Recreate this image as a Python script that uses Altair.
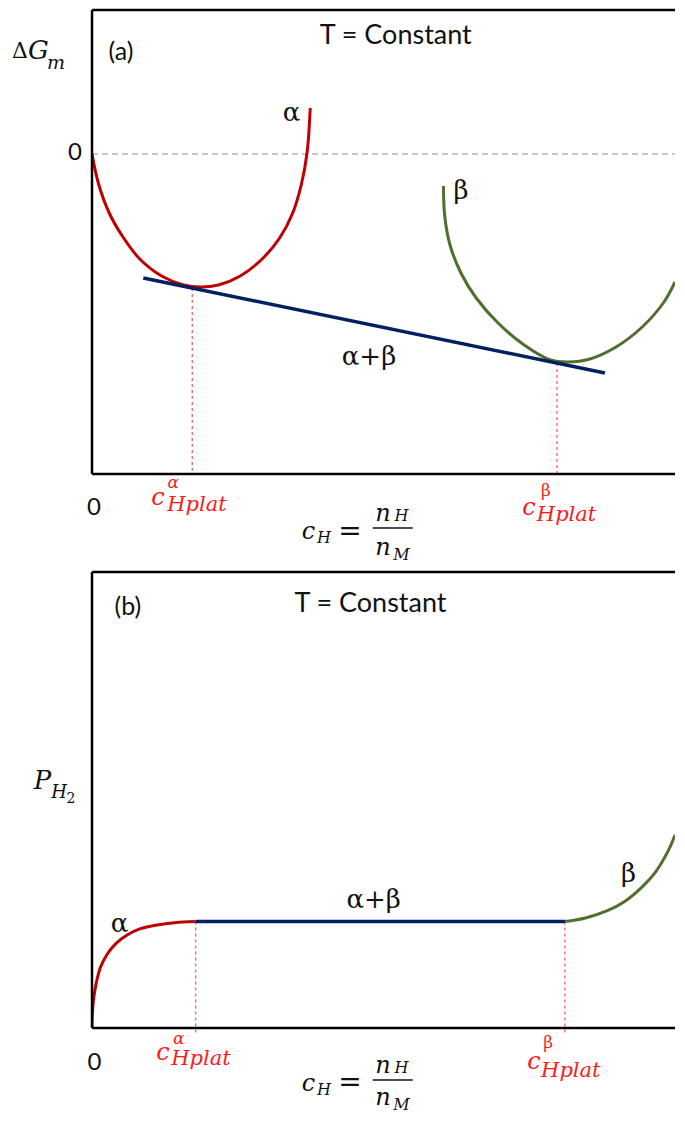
import altair as alt
import pandas as pd

# ---------------- data (panel a: Gibbs energy of mixing) ----------------
A_RED_X = [0, 0.0111, 0.0290, 0.0511, 0.0806, 0.1174, 0.1543, 0.1838, 0.2132, 0.2501, 0.2869, 0.3164, 0.3385, 0.3532, 0.3628, 0.3680]
A_RED_Y = [0, -0.30, -0.59, -0.82, -1.05, -1.22, -1.31, -1.33, -1.31, -1.22, -1.05, -0.84, -0.59, -0.30, 0.02, 0.46]
A_BLUE_X = [0.0865, 0.865]
A_BLUE_Y = [-1.24, -2.19]
A_GREEN_X = [0.5926, 0.5948, 0.6037, 0.6221, 0.6479, 0.6847, 0.7288, 0.7732, 0.8025, 0.8395, 0.8836, 0.9278, 0.9646, 0.9831]
A_GREEN_Y = [-0.32, -0.62, -0.91, -1.19, -1.44, -1.69, -1.91, -2.06, -2.08, -2.05, -1.93, -1.73, -1.48, -1.28]
A_PLAT_X = [0.1690, 0.7841]
A_PLAT_Y = [-1.34, -2.09]
A_XDOM = [0, 0.9831]
A_YDOM = [-3.20, 1.44]

# ---------------- data (panel b: pressure-composition isotherm) ----------------
B_RED_X = [0, 0.0003, 0.0025, 0.0069, 0.0143, 0.0253, 0.0401, 0.0585, 0.0806, 0.1101, 0.1395, 0.1749]
B_RED_Y = [0, 0.095, 0.278, 0.443, 0.607, 0.735, 0.844, 0.928, 0.991, 1.031, 1.053, 1.064]
B_BLUE_X = [0.1749, 0.7975]
B_BLUE_Y = [1.064, 1.064]
B_GREEN_X = [0.7975, 0.8321, 0.8690, 0.8983, 0.9278, 0.9499, 0.9720, 0.9831]
B_GREEN_Y = [1.064, 1.10, 1.173, 1.265, 1.411, 1.557, 1.776, 1.93]
B_PLAT_X = [0.1749, 0.7975]
B_PLAT_Y = [1.064, 1.064]
B_XDOM = [0, 0.9831]
B_YDOM = [0, 4.56]

RED = "#c00000"
BLUE = "#002060"
GREEN = "#4f6f2f"
LRED = "#ff5050"

# annotations: (text, x, y, font group, size, color)
A_ANN = [
    ("T = Constant", 0.5122, 1.18, "sans", 27, "black"),
    ("(a)", 0.049, 1.02, "sans", 25, "black"),
    ("0", -0.0287, 0.01, "sans", 24, "black"),
    ("Δ", -0.1214, 1.03, "serif", 22, "black"),
    ("G", -0.0902, 1.03, "serif_i", 26, "black"),
    ("m", -0.0607, 0.91, "serif_i", 19, "black"),
    ("α", 0.3364, 0.41, "serif", 26, "black"),
    ("β", 0.6223, -0.37, "serif", 26, "black"),
    ("α+β", 0.4671, -2.03, "serif", 26, "black"),
    ("0", 0.0034, -3.54, "sans", 24, "black"),
    ("c", 0.1113, -3.44, "serif_i", 24, "red"),
    ("α", 0.1371, -3.29, "serif_i", 17, "red"),
    ("Hplat", 0.1771, -3.505, "serif_i", 21, "red"),
    ("c", 0.7369, -3.537, "serif_i", 24, "red"),
    ("β", 0.7656, -3.37, "serif", 17, "red"),
    ("Hplat", 0.8002, -3.61, "serif_i", 21, "red"),
    ("c", 0.3651, -3.775, "serif_i", 24, "black"),
    ("H", 0.3912, -3.837, "serif_i", 16, "black"),
    ("=", 0.4351, -3.775, "serif", 28, "black"),
    ("n", 0.4907, -3.60, "serif_i", 24, "black"),
    ("H", 0.5219, -3.617, "serif_i", 16, "black"),
    ("n", 0.4907, -3.937, "serif_i", 24, "black"),
    ("M", 0.5219, -4.01, "serif_i", 16, "black"),
]
A_FRAC = [(0.4734, 0.5408, -3.74)]

B_ANN = [
    ("(b)", 0.0604, 4.215, "sans", 25, "black"),
    ("T = Constant", 0.4695, 4.242, "sans", 27, "black"),
    ("P", -0.0835, 2.466, "serif_i", 26, "black"),
    ("H", -0.0555, 2.35, "serif_i", 18, "black"),
    ("2", -0.0354, 2.29, "serif", 14, "black"),
    ("α", 0.0464, 1.036, "serif", 26, "black"),
    ("α+β", 0.4749, 1.28, "serif", 26, "black"),
    ("β", 0.9049, 1.54, "serif", 26, "black"),
    ("0", 0.004, -0.35, "sans", 24, "black"),
    ("c", 0.1197, -0.25, "serif_i", 24, "red"),
    ("α", 0.1462, -0.11, "serif_i", 17, "red"),
    ("Hplat", 0.1836, -0.31, "serif_i", 21, "red"),
    ("c", 0.7454, -0.34, "serif_i", 24, "red"),
    ("β", 0.7694, -0.15, "serif", 17, "red"),
    ("Hplat", 0.8074, -0.43, "serif_i", 21, "red"),
    ("c", 0.3651, -0.555, "serif_i", 24, "black"),
    ("H", 0.3912, -0.615, "serif_i", 16, "black"),
    ("=", 0.4351, -0.55, "serif", 28, "black"),
    ("n", 0.4907, -0.38, "serif_i", 24, "black"),
    ("H", 0.5219, -0.395, "serif_i", 16, "black"),
    ("n", 0.4907, -0.70, "serif_i", 24, "black"),
    ("M", 0.5219, -0.765, "serif_i", 16, "black"),
]
B_FRAC = [(0.4734, 0.5408, -0.52)]

FONTS = {
    "sans": ("Lato", "normal"),
    "serif": ("DejaVu Serif", "normal"),
    "serif_i": ("DejaVu Serif", "italic"),
}
COLORS = {"black": "#111111", "red": "#ff1a1a"}


def enc(xs, ys):
    return dict(
        x=alt.X("x:Q", scale=xs, axis=None),
        y=alt.Y("y:Q", scale=ys, axis=None),
    )


def line(xv, yv, color, w, xs, ys):
    df = pd.DataFrame({"x": xv, "y": yv})
    return alt.Chart(df).mark_line(
        color=color, strokeWidth=w, interpolate="catmull-rom", clip=True
    ).encode(**enc(xs, ys))


def rules(rows, xs, ys, **style):
    df = pd.DataFrame(rows, columns=["x", "x2", "y", "y2"])
    return alt.Chart(df).mark_rule(**style).encode(
        x=alt.X("x:Q", scale=xs, axis=None),
        x2="x2:Q",
        y=alt.Y("y:Q", scale=ys, axis=None),
        y2="y2:Q",
    )


def texts(ann, xs, ys):
    layers = []
    df = pd.DataFrame(ann, columns=["t", "x", "y", "g", "s", "c"])
    df["c"] = df["c"].map(COLORS)
    for g, (font, style) in FONTS.items():
        sub = df[df["g"] == g]
        if len(sub) == 0:
            continue
        layers.append(
            alt.Chart(sub).mark_text(
                font=font, fontStyle=style, align="center", baseline="middle"
            ).encode(
                text="t:N",
                size=alt.Size("s:Q", scale=None),
                color=alt.Color("c:N", scale=None),
                **enc(xs, ys),
            )
        )
    return layers


def panel(red, blue, green, plat, xdom, ydom, ann, frac, zero_line, w, h):
    xs = alt.Scale(domain=xdom, nice=False, zero=False)
    ys = alt.Scale(domain=ydom, nice=False, zero=False)
    layers = []
    if zero_line:
        layers.append(rules([(xdom[0], xdom[1], 0, 0)], xs, ys,
                            color="#b8b8b8", strokeWidth=1.5, strokeDash=[6, 4]))
    plat_rows = [(px, px, py, ydom[0] - (0.07 if not zero_line else 0)) for px, py in zip(*plat)]
    layers.append(rules(plat_rows, xs, ys, color=LRED, strokeWidth=1.2, strokeDash=[3, 3]))
    layers.append(line(*red, RED, 3, xs, ys))
    layers.append(line(*green, GREEN, 3, xs, ys))
    layers.append(line(*blue, BLUE, 3.5, xs, ys))
    border = [
        (xdom[0], xdom[1], ydom[1], ydom[1]),
        (xdom[0], xdom[1], ydom[0], ydom[0]),
        (xdom[0], xdom[0], ydom[0], ydom[1]),
    ]
    layers.append(rules(border, xs, ys, color="black", strokeWidth=2.5))
    layers.append(rules([(a, b, y, y) for a, b, y in frac], xs, ys, color="#111111", strokeWidth=1.3))
    layers += texts(ann, xs, ys)
    return alt.layer(*layers).properties(width=w, height=h)


pa = panel((A_RED_X, A_RED_Y), (A_BLUE_X, A_BLUE_Y), (A_GREEN_X, A_GREEN_Y),
           (A_PLAT_X, A_PLAT_Y), A_XDOM, A_YDOM, A_ANN, A_FRAC, True, 583, 464)
pb = panel((B_RED_X, B_RED_Y), (B_BLUE_X, B_BLUE_Y), (B_GREEN_X, B_GREEN_Y),
           (B_PLAT_X, B_PLAT_Y), B_XDOM, B_YDOM, B_ANN, B_FRAC, False, 583, 456)

chart = alt.vconcat(pa, pb, spacing=98, bounds="flush").properties(
    padding={"left": 4, "top": 0, "right": 0, "bottom": 0}
).configure_view(strokeWidth=0)

chart.save("out.html", embed_options={"renderer": "svg", "actions": False})
